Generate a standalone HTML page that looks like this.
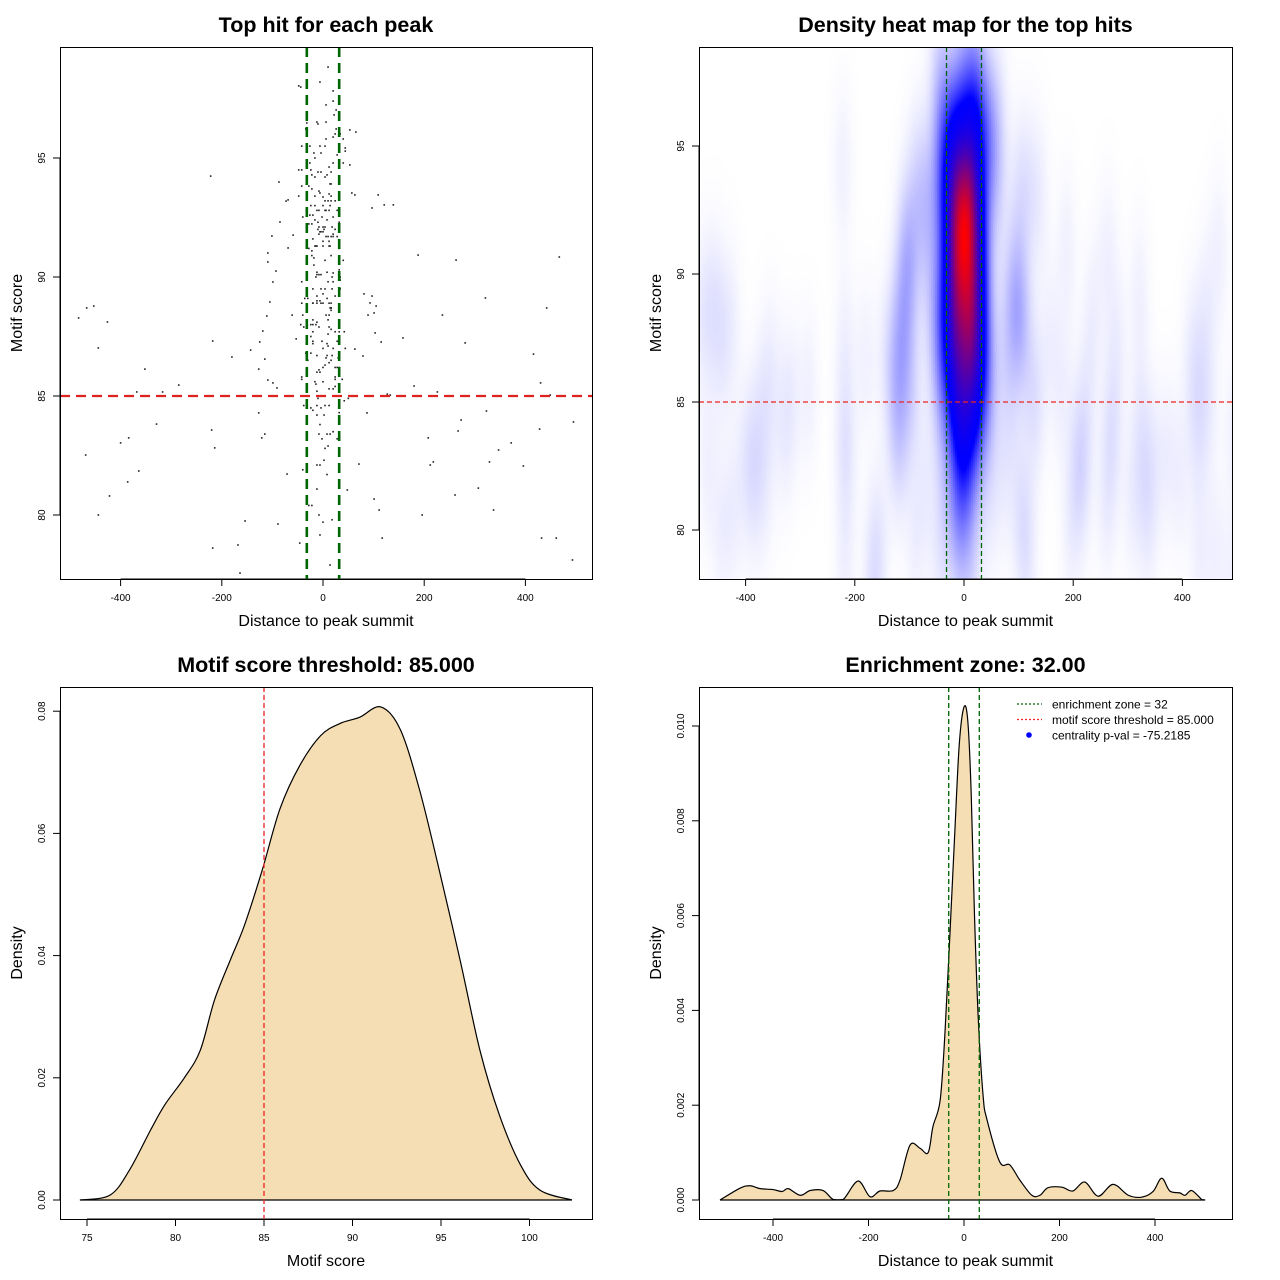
<!DOCTYPE html>
<html><head><meta charset="utf-8"><style>
html,body{margin:0;padding:0;background:#fff;width:1280px;height:1280px;overflow:hidden}
#wrap{position:relative;width:1280px;height:1280px}
canvas{position:absolute;left:699px;top:47px}
svg{position:absolute;left:0;top:0;font-family:"Liberation Sans",sans-serif}
</style></head><body>
<div id="wrap">
<canvas id="heat" width="533" height="532"></canvas>
<svg id="svg" width="1280" height="1280" xmlns="http://www.w3.org/2000/svg"></svg>
</div>
<script>
// ---- scatter data: distance to summit, motif score ----
const hitDist = [-483,-467,-453,-426,-444,-352,-368,-317,-285,-329,-384,-400,-469,-364,-386,-422,-444,-220,-214,-218,-180,-143,-127,-115,-109,-99,-91,-127,-121,-115,-218,-168,-154,-89,-71,-46,-125,-119,-111,-105,-99,-93,-109,-109,-101,-69,-59,-85,-69,-222,-87,-44,-32,53,65,53,57,63,97,109,121,139,188,263,236,281,321,442,467,416,430,449,180,226,208,218,212,273,267,329,347,372,323,261,307,337,396,428,432,461,493,495,196,111,101,117,71,48,87,133,127,115,103,89,93,81,97,105,101,158,79,63,-164,-6,14,-8,-12,
10,-6,-48,20,20,6,26,22,-12,6,-10,-34,26,24,34,20,6,40,-42,-26,-6,4,44,44,-4,-18,28,-16,-26,20,32,40,-32,12,-48,-42,-24,-10,-4,16,-22,-16,4,8,-28,-42,-22,14,16,-8,-16,0,-6,-48,-73,12,16,4,10,16,24,-16,-24,0,14,-12,-8,4,12,28,6,-26,-20,-40,-2,20,-16,-10,8,32,-28,-22,-8,0,4,18,-10,2,24,-6,-4,0,-32,-8,20,6,10,16,20,28,0,12,-20,-12,-16,-14,0,12,14,-28,-22,32,-22,-18,16,4,40,-18,-12,-8,-4,-12,-14,8,20,32,18,34,34,10,20,-42,-20,-4,4,18,34,0,-12,-30,-36,8,16,14,16,-12,-6,-20,24,
-42,-20,0,12,-12,-4,16,16,-61,-40,6,12,-20,-12,10,-24,-20,-14,-8,-44,-38,12,16,-20,24,32,42,10,-24,-53,-20,-20,-2,8,10,28,32,0,20,44,-34,-24,-12,8,18,6,16,30,-30,4,0,24,28,32,12,-8,-12,-6,-42,-42,-16,-14,0,24,24,38,12,24,20,-12,-10,42,50,-38,-24,-20,-12,-4,4,12,-12,2,32,-6,-8,8,14,20,-2,28,10,4,2,-12,-6,-40,8,-28,-22,0,18];
const hitScore = [88.28,88.7,88.78,88.11,87.02,86.13,85.17,85.17,85.46,83.82,83.24,83.03,82.52,81.85,81.39,80.8,80.0,83.57,82.82,87.31,86.64,86.93,86.13,86.55,85.67,85.55,85.34,84.29,83.24,83.4,78.61,78.74,79.75,79.62,81.72,78.82,87.27,87.73,88.36,88.95,89.79,90.25,90.63,91.01,91.72,91.22,91.76,92.31,93.24,94.24,93.99,97.98,96.47,96.18,96.09,94.71,93.53,93.45,92.9,93.45,93.03,93.03,90.92,90.71,88.4,87.23,89.12,88.7,90.84,86.76,85.55,85.04,85.42,85.17,83.24,82.23,82.1,83.99,83.53,82.23,82.73,83.03,84.37,80.84,81.13,80.21,82.06,83.61,79.03,79.03,78.11,83.91,80.0,80.21,80.67,79.03,82.14,81.05,84.29,85.04,85.08,87.27,87.65,88.4,88.91,89.29,89.2,88.78,88.49,87.44,86.68,86.97,77.56,79.16,77.9,80.0,81.09,
98.82,98.19,98.03,97.82,97.39,97.23,97.02,96.81,96.51,96.51,96.43,96.22,96.22,96.01,96.01,95.88,95.8,95.8,95.5,95.5,95.5,95.5,95.42,95.29,95.21,95.21,95.13,95.0,94.79,94.79,94.79,94.79,94.71,94.62,94.5,94.5,94.5,94.41,94.41,94.41,94.29,94.2,94.2,94.29,93.82,93.82,93.7,93.91,93.91,93.61,93.4,93.36,93.53,93.4,93.19,93.49,93.4,93.2,93.2,93.2,93.2,93.0,93.0,93.0,93.0,92.8,92.8,92.8,92.8,92.8,92.8,92.6,92.6,92.52,92.52,92.52,92.4,92.3,92.4,92.3,92.23,92.23,92.1,92.1,92.1,92.1,92.0,92.0,92.0,91.9,91.9,91.9,92.0,91.8,91.8,91.7,91.7,91.7,91.7,91.7,91.5,91.5,91.6,91.3,91.3,91.3,91.3,91.3,91.3,91.2,91.1,91.2,90.9,90.8,90.9,90.7,90.7,90.5,90.2,90.1,90.1,90.1,90.0,90.2,90.17,90.3,90.0,90.0,89.87,89.8,89.8,89.8,89.5,89.5,89.5,89.5,89.5,89.29,89.2,89.1,89.1,89.1,88.9,88.7,88.7,89.0,89.0,88.9,89.2,
88.9,88.9,88.9,88.9,88.9,88.9,88.7,88.6,88.4,88.4,88.4,88.4,88.2,88.1,88.2,88.0,88.0,88.0,87.9,88.0,87.9,87.9,87.8,87.7,87.7,87.7,87.7,87.6,87.5,87.4,87.3,87.2,87.3,87.2,87.1,87.3,87.2,87.0,87.0,87.0,86.8,86.8,86.7,86.7,86.7,86.6,86.5,86.6,86.5,86.3,86.2,86.2,86.2,86.2,86.4,86.1,86.0,86.0,85.8,85.7,85.6,85.5,85.6,85.8,85.7,85.7,85.3,85.4,85.3,85.2,84.9,84.8,84.9,84.6,84.5,84.4,84.6,84.5,84.6,84.6,84.2,84.2,84.3,83.8,83.4,83.4,83.4,83.5,83.2,83.2,82.9,82.8,82.3,82.1,82.1,81.9,81.7,80.4,80.4,79.7,79.8];
// ---- motif score density ----
const scoreX = [74.6,76.3,77.4,78.6,79.4,80.5,81.4,82.2,83.1,83.9,84.9,85.9,87.0,88.2,89.3,90.4,91.6,92.7,93.8,94.9,96.1,97.2,98.3,99.5,100.6,102.4];
const scoreDens = [0,0.0008,0.0049,0.0115,0.0156,0.02,0.0245,0.0327,0.0393,0.045,0.054,0.064,0.071,0.076,0.078,0.079,0.0807,0.077,0.067,0.054,0.039,0.0245,0.0139,0.0057,0.0016,0];
// ---- distance density ----
const distX = [-511,-469,-448,-427,-400,-381,-368,-343,-322,-295,-274,-253,-222,-197,-176,-148,-134,-113,-92,-75,-65,-50,-40,-30,-20,-10,0,8,15,22,30,40,48,75,96,117,142,159,176,205,228,253,281,312,344,372,396,414,431,452,463,477,498,505];
const distDens = [0,0.00025,0.0003,0.00024,0.00022,0.00018,0.00024,0.0001,0.0002,0.0002,0.00001,0.00001,0.0004,0.00007,0.00019,0.0002,0.00042,0.00116,0.00109,0.001,0.00155,0.0021,0.0035,0.0055,0.0076,0.0096,0.0104,0.0101,0.0086,0.006,0.0038,0.0022,0.0017,0.0008,0.00074,0.00042,0.0001,0.0001,0.00026,0.00027,0.00019,0.00038,0.00008,0.00033,0.0001,0.00006,0.00018,0.00046,0.00019,0.00015,0.0001,0.0002,0.00001,0];
const zone = 32, thr = 85;
const ticksDist = [-400,-200,0,200,400];
const ticksScore1 = [80,85,90,95];
const ticksScore3 = [75,80,85,90,95,100];
const ticksDens3 = [0,0.02,0.04,0.06,0.08];
const ticksDens4 = [0,0.002,0.004,0.006,0.008,0.010];
const labDens3 = ["0.00","0.02","0.04","0.06","0.08"];
const labDens4 = ["0.000","0.002","0.004","0.006","0.008","0.010"];

const NS="http://www.w3.org/2000/svg";
const svg=document.getElementById('svg');
function el(tag,attrs,parent,text){const e=document.createElementNS(NS,tag);for(const k in attrs)e.setAttribute(k,attrs[k]);if(text!==undefined)e.textContent=text;(parent||svg).appendChild(e);return e;}
function group(name,parent){const g=el('g',{},parent);return g;}

const P1={x0:60,y0:47,x1:592,y1:579,sx:d=>323+d*0.506,sy:s=>158+(95-s)*23.8};
const P2={x0:699,y0:47,x1:1232,y1:579,sx:d=>964+d*0.546,sy:s=>146+(95-s)*25.6};
const P3={x0:60,y0:687,x1:592,y1:1219,sx:s=>87+(s-75)*17.7,sy:v=>1200-v*6110};
const P4={x0:699,y0:687,x1:1232,y1:1219,sx:d=>964+d*0.4775,sy:v=>1200-v*47400};

function frame(P,name,title,xt,yt,xticks,xlabs,yticks,ylabs){
  const g=group(name);
  const cid='clip-'+name;
  const cp=el('clipPath',{id:cid},g);el('rect',{x:P.x0,y:P.y0,width:P.x1-P.x0,height:P.y1-P.y0},cp);
  const t=el('text',{x:(P.x0+P.x1)/2,y:P.y0-15,'text-anchor':'middle','font-size':'21.5','font-weight':'bold'},g,title);
  
  const xa=el('text',{x:(P.x0+P.x1)/2,y:P.y1+47,'text-anchor':'middle','font-size':'16'},g,xt);
  
  const ya=el('text',{x:0,y:0,'text-anchor':'middle','font-size':'16',transform:`translate(${P.x0-38},${(P.y0+P.y1)/2}) rotate(-90)`},g,yt);
  
  const xg=group('x-axis',g);
  el('line',{x1:P.sx(xticks[0]),x2:P.sx(xticks[xticks.length-1]),y1:P.y1,y2:P.y1,stroke:'#000'},xg);
  xticks.forEach((v,i)=>{const x=P.sx(v);el('line',{x1:x,x2:x,y1:P.y1,y2:P.y1+7,stroke:'#000'},xg);
    const tl=el('text',{x:x,y:P.y1+22,'text-anchor':'middle','font-size':'10'},xg,xlabs[i]);
    });
  const yg=group('y-axis',g);
  el('line',{x1:P.x0,x2:P.x0,y1:P.sy(yticks[0]),y2:P.sy(yticks[yticks.length-1]),stroke:'#000'},yg);
  yticks.forEach((v,i)=>{const y=P.sy(v);el('line',{x1:P.x0-7,x2:P.x0,y1:y,y2:y,stroke:'#000'},yg);
    const tl=el('text',{x:0,y:0,'text-anchor':'middle','font-size':'10',transform:`translate(${P.x0-15},${y}) rotate(-90)`},yg,ylabs[i]);
    });
  return {g,cid};
}
function box(P,g){el('rect',{x:P.x0+0.5,y:P.y0+0.5,width:P.x1-P.x0,height:P.y1-P.y0,fill:'none',stroke:'#000','stroke-width':1},g);}
function vline(P,g,x,color,w,dash,name,cid){const l=el('line',{x1:P.sx(x),x2:P.sx(x),y1:P.y0,y2:P.y1,stroke:color,'stroke-width':w,'stroke-dasharray':dash,'clip-path':`url(#${cid})`},g);}
function hline(P,g,y,color,w,dash,name,cid){const l=el('line',{x1:P.x0,x2:P.x1,y1:P.sy(y),y2:P.sy(y),stroke:color,'stroke-width':w,'stroke-dasharray':dash,'clip-path':`url(#${cid})`},g);}
function smoothPath(pts){let d=`M${pts[0][0]},${pts[0][1]}`;
  for(let i=0;i<pts.length-1;i++){const p0=pts[Math.max(0,i-1)],p1=pts[i],p2=pts[i+1],p3=pts[Math.min(pts.length-1,i+2)];
    const c1=[p1[0]+(p2[0]-p0[0])/6,p1[1]+(p2[1]-p0[1])/6],c2=[p2[0]-(p3[0]-p1[0])/6,p2[1]-(p3[1]-p1[1])/6];
    d+=` C${c1[0]},${Math.min(c1[1],1200)} ${c2[0]},${Math.min(c2[1],1200)} ${p2[0]},${p2[1]}`;}
  return d;}
function density(P,g,xs,ys,name){
  const pts=xs.map((x,i)=>[P.sx(x),P.sy(ys[i])]);
  const d=smoothPath(pts);
  const a=el('path',{d:d+` L${pts[pts.length-1][0]},1200 L${pts[0][0]},1200 Z`,fill:'#F5DEB3',stroke:'none'},g);
  
  const l=el('path',{d:d,fill:'none',stroke:'#000','stroke-width':1.2},g);
  
  el('line',{x1:pts[0][0],x2:pts[pts.length-1][0],y1:1200,y2:1200,stroke:'#000','stroke-width':1.2},g);
}

// Panel 1
{const f=frame(P1,'scatter-panel','Top hit for each peak','Distance to peak summit','Motif score',ticksDist,ticksDist.map(String),ticksScore1,ticksScore1.map(String));
 const pg=group('scatter-points',f.g);
 hitDist.forEach((d,i)=>{const c=el('rect',{x:P1.sx(d)-0.8,y:P1.sy(hitScore[i])-0.8,width:1.6,height:1.6,fill:'#222'},pg);
   });
 vline(P1,f.g,-zone,'#006400',2.6,'10,6','enrichment-zone-left',f.cid);
 vline(P1,f.g,zone,'#006400',2.6,'10,6','enrichment-zone-right',f.cid);
 hline(P1,f.g,thr,'#DD2222',2.2,'10,6','score-threshold-line',f.cid);
 box(P1,f.g);}
// Panel 2
{const f=frame(P2,'heatmap-panel','Density heat map for the top hits','Distance to peak summit','Motif score',ticksDist,ticksDist.map(String),ticksScore1,ticksScore1.map(String));
 vline(P2,f.g,-zone,'#006400',1.3,'5,3','enrichment-zone-left',f.cid);
 vline(P2,f.g,zone,'#006400',1.3,'5,3','enrichment-zone-right',f.cid);
 hline(P2,f.g,thr,'#EE2222',1.3,'5,3','score-threshold-line',f.cid);
 box(P2,f.g);
 const cv=document.getElementById('heat'),ctx=cv.getContext('2d');
 const W=533,H=532,st=2,gw=Math.ceil(W/st),gh=Math.ceil(H/st);
 const bx=13,by=2.1;const dens=new Float32Array(gw*gh);let mx=0;
 for(let j=0;j<gh;j++){const sy=95-((P2.y0+j*st+1)-146)/25.6;
  for(let i=0;i<gw;i++){const sx=((P2.x0+i*st+1)-964)/0.546;let s=0;
   for(let k=0;k<hitDist.length;k++){const dx=(hitDist[k]-sx)/bx;if(dx>4||dx<-4)continue;const dy=(hitScore[k]-sy)/by;if(dy>4||dy<-4)continue;s+=Math.exp(-0.5*(dx*dx+dy*dy));}
   dens[j*gw+i]=s;if(s>mx)mx=s;}}
 const img=ctx.createImageData(W,H);
 for(let y=0;y<H;y++)for(let x=0;x<W;x++){let t=dens[Math.floor(y/st)*gw+Math.floor(x/st)]/mx;
  let r,g,b;const c=0.35;
  if(t<c){const u=t/c;r=255*(1-u);g=255*(1-u);b=255;}else{const u=Math.pow((t-c)/(1-c),1.8);r=255*u;g=0;b=255*(1-u);}
  const o=(y*W+x)*4;img.data[o]=r;img.data[o+1]=g;img.data[o+2]=b;img.data[o+3]=255;}
 ctx.putImageData(img,0,0);}
// Panel 3
{const f=frame(P3,'score-density-panel','Motif score threshold: 85.000','Motif score','Density',ticksScore3,ticksScore3.map(String),ticksDens3,labDens3);
 density(P3,f.g,scoreX,scoreDens,'score-density');
 vline(P3,f.g,thr,'#EE2222',1.3,'5,3','score-threshold-line',f.cid);
 box(P3,f.g);}
// Panel 4
{const f=frame(P4,'distance-density-panel','Enrichment zone: 32.00','Distance to peak summit','Density',ticksDist,ticksDist.map(String),ticksDens4,labDens4);
 density(P4,f.g,distX,distDens,'distance-density');
 vline(P4,f.g,-zone,'#006400',1.3,'5,3','enrichment-zone-left',f.cid);
 vline(P4,f.g,zone,'#006400',1.3,'5,3','enrichment-zone-right',f.cid);
 box(P4,f.g);
 const lg=group('legend',f.g);
 const items=[['enrichment zone = 32','#006400','line'],['motif score threshold = 85.000','#EE2222','line'],['centrality p-val = -75.2185','#0000FF','dot']];
 items.forEach((it,i)=>{const y=704+i*15.5;const eg=group('legend-entry',lg);
  if(it[2]==='line')el('line',{x1:1017,x2:1042,y1:y,y2:y,stroke:it[1],'stroke-width':1.2,'stroke-dasharray':'2,2'},eg);
  else el('circle',{cx:1029,cy:y,r:2.8,fill:it[1]},eg);
  el('text',{x:1052,y:y+4.5,'font-size':'12'},eg,it[0]);});}
</script>
</body></html>
